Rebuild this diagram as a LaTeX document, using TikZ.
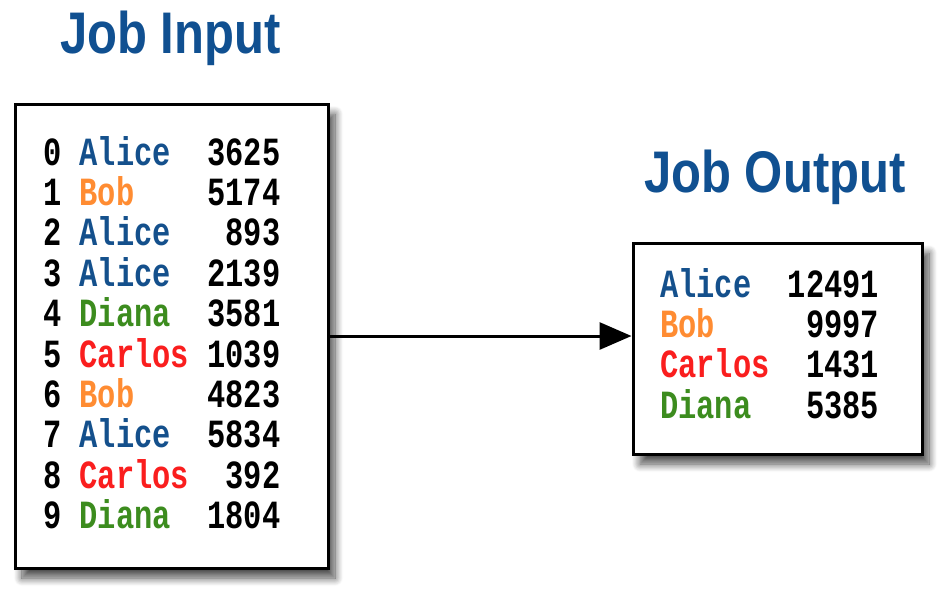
\documentclass[tikz,border=0pt]{standalone}
\usepackage{fontspec}
\usetikzlibrary{arrows.meta,shadows.blur}
\newfontfamily\codefont[FakeStretch=0.76]{Liberation Mono Bold}
\newfontfamily\titlefont[FakeStretch=0.835]{Liberation Sans Bold}
\definecolor{titleblue}{RGB}{16,80,145}
\definecolor{alicec}{RGB}{20,80,140}
\definecolor{bobc}{RGB}{255,140,50}
\definecolor{carlosc}{RGB}{250,30,30}
\definecolor{dianac}{RGB}{60,140,30}
\newcommand{\Al}{\textcolor{alicec}{Alice}}
\newcommand{\Bo}{\textcolor{bobc}{Bob}}
\newcommand{\Ca}{\textcolor{carlosc}{Carlos}}
\newcommand{\Di}{\textcolor{dianac}{Diana}}
\begin{document}
\begin{tikzpicture}[x=1pt,y=-1pt,
  databox/.style={draw=black,line width=3pt,fill=white,inner sep=0pt,
    blur shadow={shadow xshift=7pt,shadow yshift=-10pt,shadow blur steps=10,shadow blur radius=8pt,shadow opacity=70}},
  row/.style={anchor=base west,inner sep=0pt,font=\codefont\fontsize{40}{40}\selectfont},
  title/.style={anchor=base west,inner sep=0pt,text=titleblue,font=\titlefont\fontsize{58.7}{60}\selectfont}]
\useasboundingbox (0,0) rectangle (945,600);
\node[title] (tin) at (60,53) {Job Input};
\node[title] (tout) at (644,192) {Job Output};
\node[databox,minimum width=313pt,minimum height=464pt] (lbox) at (171.5,336) {};
\node[databox,minimum width=289pt,minimum height=211pt] (rbox) at (777.5,348.5) {};
\node[row] (r0) at (43,165) {0~\Al~~3625};
\node[row] (r1) at (43,205.4) {1~\Bo~~~~5174};
\node[row] (r2) at (43,245.8) {2~\Al~~~893};
\node[row] (r3) at (43,286.2) {3~\Al~~2139};
\node[row] (r4) at (43,326.6) {4~\Di~~3581};
\node[row] (r5) at (43,367) {5~\Ca~1039};
\node[row] (r6) at (43,407.4) {6~\Bo~~~~4823};
\node[row] (r7) at (43,447.8) {7~\Al~~5834};
\node[row] (r8) at (43,488.2) {8~\Ca~~392};
\node[row] (r9) at (43,528.6) {9~\Di~~1804};
\node[row] (o0) at (660,297) {\Al~~12491};
\node[row] (o1) at (660,337.3) {\Bo~~~~~9997};
\node[row] (o2) at (660,377.6) {\Ca~~1431};
\node[row] (o3) at (660,418) {\Di~~~5385};
\draw[line width=3pt,-{Triangle[length=32pt,width=27pt]}] (lbox.east) -- (lbox.east -| rbox.west);
\end{tikzpicture}
\end{document}
